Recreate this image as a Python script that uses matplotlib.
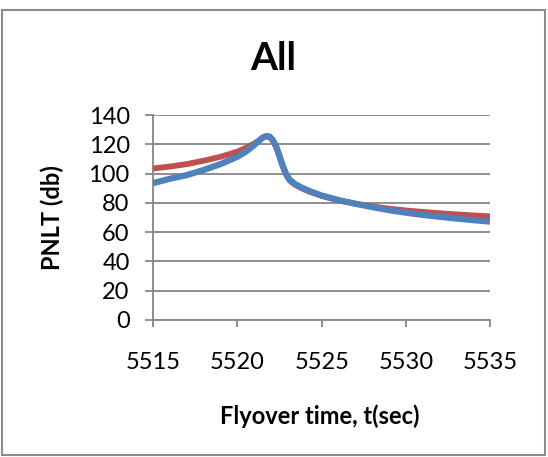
import matplotlib
matplotlib.use("Agg")
import matplotlib.pyplot as plt
from matplotlib.patches import Rectangle

# Flyover time (s) and PNLT (dB) for the two noise predictions
time_s = [5515, 5516, 5517, 5518, 5519, 5520, 5520.5, 5521, 5521.3, 5521.5,
          5521.7, 5521.9, 5522.1, 5522.3, 5522.5, 5522.7, 5522.9, 5523.1,
          5523.4, 5523.8, 5524.3, 5525, 5526, 5527, 5528, 5529, 5530, 5531,
          5532, 5533, 5534, 5535]
pnlt_red = [103.5, 104.8, 106.5, 108.8, 111.5, 115.0, 117.5, 120.5, 122.8, 124.5,
            125.4, 125.0, 122.5, 118.0, 111.5, 104.5, 99.0, 95.3,
            92.5, 90.0, 87.5, 84.8, 81.7, 79.4, 77.6, 76.0, 74.8, 73.8,
            72.9, 72.1, 71.4, 70.8]
pnlt_blue = [93.5, 96.5, 99.0, 102.5, 106.5, 111.5, 115.0, 119.5, 122.6, 124.6,
             125.6, 125.3, 123.0, 118.5, 112.0, 105.0, 99.5, 95.8,
             93.0, 90.5, 88.0, 85.0, 81.9, 79.4, 77.1, 75.0, 73.3, 71.8,
             70.5, 69.3, 68.2, 67.2]

x_ticks = [5515, 5520, 5525, 5530, 5535]
y_ticks = [0, 20, 40, 60, 80, 100, 120, 140]

plt.rcParams['font.family'] = ['Lato', 'DejaVu Sans']

W, H = 548, 457
fig = plt.figure(figsize=(W / 100, H / 100), dpi=100)
fig.patch.set_facecolor('white')

# chart frame
fig.add_artist(Rectangle((2 / W, 2 / H), 543 / W, 445 / H, transform=fig.transFigure,
                         fill=False, edgecolor='#8c8c8c', linewidth=1.5))

ax = fig.add_axes([153.3 / W, (H - 320) / H, (490 - 153.3) / W, (320 - 115) / H])
grid_c = '#868686'
ax.plot(time_s, pnlt_red, color='#C0504D', linewidth=4.2,
        solid_joinstyle='round', solid_capstyle='butt', zorder=3)
ax.plot(time_s, pnlt_blue, color='#4F81BD', linewidth=4.5,
        solid_joinstyle='round', solid_capstyle='butt', zorder=4)

ax.set_xlim(5515, 5535)
ax.set_ylim(0, 140)
ax.set_xticks(x_ticks)
ax.set_yticks(y_ticks)
ax.yaxis.grid(True, color=grid_c, linewidth=1.3)
ax.set_axisbelow(True)
for s in ['top', 'right']:
    ax.spines[s].set_visible(False)
for s in ['left', 'bottom']:
    ax.spines[s].set_color(grid_c)
    ax.spines[s].set_linewidth(1.3)
ax.tick_params(axis='y', direction='out', length=6, width=1.3, color=grid_c,
               pad=11, labelsize=17)
ax.tick_params(axis='x', direction='out', length=5, width=1.3, color=grid_c,
               pad=18, labelsize=17)

ax.set_xlabel('Flyover time, t(sec)', fontsize=17, fontweight='bold', va='center')
ax.xaxis.set_label_coords((320 - 153.3) / 336.7, (320 - 416) / 205)
ax.set_ylabel('PNLT (db)', fontsize=17, fontweight='bold', va='center')
ax.yaxis.set_label_coords((52 - 153.3) / 336.7, (320 - 218) / 205)
fig.text(273 / W, 1 - 58 / H, 'All', ha='center', va='center', fontsize=28,
         fontweight='bold')

fig.savefig('out.png', dpi=100)
